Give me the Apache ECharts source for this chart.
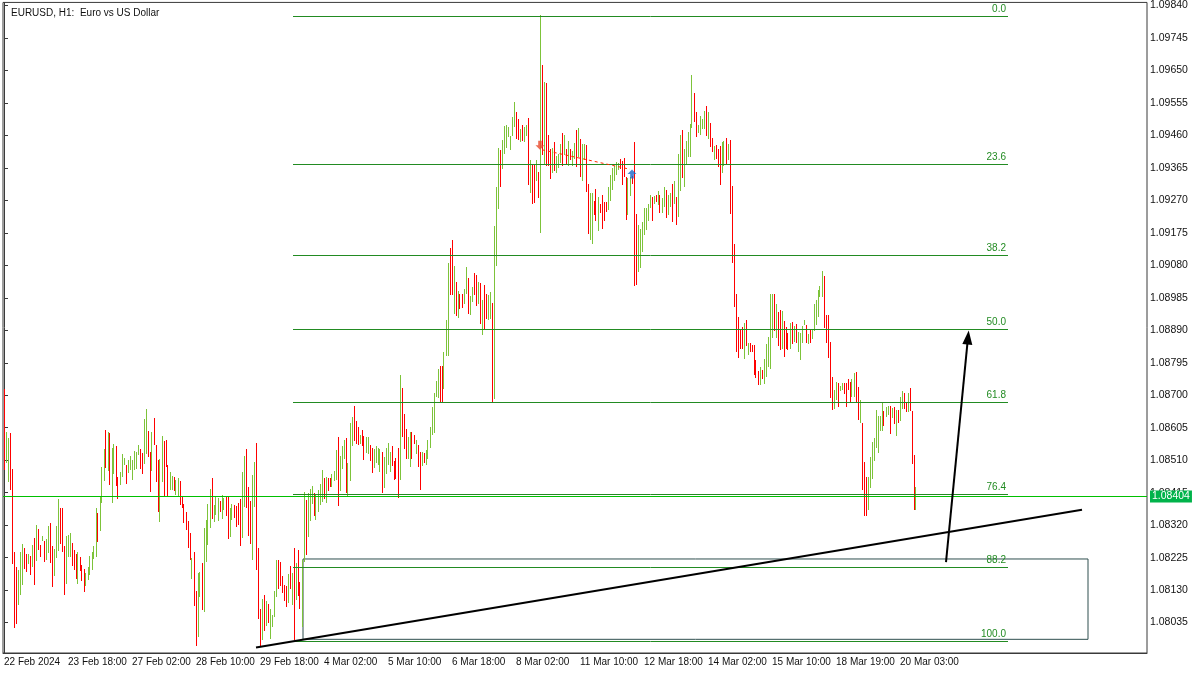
<!DOCTYPE html>
<html><head><meta charset="utf-8">
<script src="https://cdn.jsdelivr.net/npm/echarts@6/dist/echarts.min.js"></script>
<style>html,body{margin:0;padding:0;background:#fff}#c{width:1200px;height:675px}</style>
</head><body><div id="c"></div>
<script>
// ---- DATA (EURUSD H1) ----
const highs = [
1.08718,1.08592,1.08575,1.08590,1.08484,1.08241,1.08197,1.08189,1.08241,1.08265,
1.08254,1.08235,1.08235,1.08229,1.08262,1.08283,1.08321,1.08309,1.08262,1.08289,
1.08274,1.08280,1.08318,1.08327,1.08260,1.08251,1.08318,1.08397,1.08371,1.08371,
1.08260,1.08289,1.08292,1.08298,1.08268,1.08247,1.08235,1.08241,1.08227,1.08203,
1.08191,1.08180,1.08197,1.08229,1.08241,1.08260,1.08371,1.08356,1.08406,1.08490,
1.08543,1.08598,1.08592,1.08590,1.08546,1.08557,1.08552,1.08461,1.08476,1.08528,
1.08517,1.08496,1.08511,1.08522,1.08511,1.08537,1.08534,1.08554,1.08543,1.08531,
1.08630,1.08660,1.08595,1.08534,1.08592,1.08633,1.08554,1.08511,1.08514,1.08581,
1.08566,1.08569,1.08496,1.08476,1.08464,1.08461,1.08452,1.08458,1.08449,1.08406,
1.08382,1.08359,1.08333,1.08298,1.08224,1.08241,1.08127,1.08180,1.08183,1.08209,
1.08312,1.08336,1.08382,1.08426,1.08458,1.08379,1.08403,1.08400,1.08391,1.08408,
1.08400,1.08403,1.08406,1.08371,1.08382,1.08379,1.08376,1.08385,1.08397,1.08476,
1.08522,1.08543,1.08432,1.08391,1.08467,1.08505,1.08560,1.08254,1.08075,1.08104,
1.08115,1.08098,1.08089,1.08075,1.08057,1.08127,1.08218,1.08218,1.08212,1.08171,
1.08145,1.08142,1.08177,1.08200,1.08180,1.08254,1.08209,1.08247,1.08153,1.08218,
1.08417,1.08394,1.08414,1.08426,1.08435,1.08414,1.08408,1.08423,1.08441,1.08482,
1.08458,1.08461,1.08458,1.08458,1.08470,1.08479,1.08540,1.08578,1.08522,1.08552,
1.08569,1.08575,1.08502,1.08619,1.08636,1.08668,1.08625,1.08607,1.08584,1.08598,
1.08581,1.08578,1.08578,1.08554,1.08546,1.08543,1.08552,1.08546,1.08543,1.08534,
1.08520,1.08546,1.08560,1.08534,1.08552,1.08508,1.08517,1.08546,1.08759,1.08721,
1.08645,1.08601,1.08578,1.08592,1.08592,1.08584,1.08569,1.08554,1.08534,1.08534,
1.08531,1.08540,1.08569,1.08607,1.08666,1.08706,1.08741,1.08776,1.08785,1.08785,
1.08826,1.08920,1.09086,1.09130,1.09153,1.09077,1.09030,1.09004,1.08995,1.08995,
1.09010,1.09074,1.09042,1.08990,1.09016,1.09057,1.09051,1.09030,1.09027,1.08978,
1.09021,1.08995,1.08992,1.09001,1.08969,1.09194,1.09309,1.09423,1.09417,1.09446,
1.09487,1.09490,1.09484,1.09458,1.09513,1.09557,1.09528,1.09507,1.09478,1.09490,
1.09484,1.09490,1.09510,1.09388,1.09373,1.09373,1.09388,1.09353,1.09811,1.09665,
1.09615,1.09612,1.09461,1.09420,1.09423,1.09440,1.09399,1.09405,1.09434,1.09466,
1.09461,1.09420,1.09443,1.09420,1.09414,1.09437,1.09475,1.09481,1.09449,1.09434,
1.09434,1.09431,1.09318,1.09291,1.09291,1.09267,1.09303,1.09279,1.09258,1.09285,
1.09264,1.09264,1.09309,1.09344,1.09364,1.09370,1.09382,1.09379,1.09391,1.09385,
1.09394,1.09338,1.09335,1.09338,1.09341,1.09440,1.09229,1.09197,1.09185,1.09206,
1.09247,1.09247,1.09258,1.09285,1.09279,1.09282,1.09285,1.09296,1.09287,1.09276,
1.09309,1.09300,1.09287,1.09293,1.09318,1.09326,1.09279,1.09405,1.09461,1.09475,
1.09420,1.09443,1.09469,1.09493,1.09636,1.09583,1.09528,1.09490,1.09516,1.09507,
1.09531,1.09545,1.09528,1.09496,1.09452,1.09429,1.09431,1.09420,1.09429,1.09440,
1.09443,1.09452,1.09434,1.09446,1.09312,1.09141,1.08995,1.08928,1.08893,1.08899,
1.08911,1.08920,1.08852,1.08852,1.08847,1.08847,1.08803,1.08771,1.08782,1.08774,
1.08806,1.08850,1.08870,1.08995,1.08995,1.08995,1.08966,1.08943,1.08949,1.08946,
1.08917,1.08899,1.08882,1.08911,1.08914,1.08902,1.08908,1.08885,1.08882,1.08902,
1.08920,1.08905,1.08879,1.08890,1.08893,1.08966,1.08978,1.09007,1.09019,1.09063,
1.09048,1.08934,1.08934,1.08855,1.08753,1.08715,1.08739,1.08736,1.08727,1.08736,
1.08736,1.08736,1.08747,1.08739,1.08747,1.08765,1.08768,1.08724,1.08686,1.08619,
1.08505,1.08461,1.08461,1.08520,1.08563,1.08575,1.08657,1.08639,1.08639,1.08677,
1.08654,1.08666,1.08668,1.08668,1.08663,1.08666,1.08657,1.08657,1.08695,1.08712,
1.08706,1.08680,1.08706,1.08721,1.08654,1.08525,1.08432];
const lows = [
1.08482,1.08502,1.08446,1.08423,1.08206,1.08019,1.08031,1.08086,1.08115,1.08145,
1.08191,1.08183,1.08206,1.08174,1.08197,1.08145,1.08215,1.08247,1.08227,1.08274,
1.08212,1.08218,1.08238,1.08209,1.08139,1.08171,1.08224,1.08244,1.08265,1.08241,
1.08115,1.08148,1.08227,1.08227,1.08200,1.08189,1.08162,1.08148,1.08186,1.08156,
1.08124,1.08142,1.08159,1.08174,1.08189,1.08221,1.08227,1.08271,1.08303,1.08385,
1.08449,1.08487,1.08479,1.08438,1.08385,1.08470,1.08435,1.08397,1.08438,1.08461,
1.08496,1.08441,1.08473,1.08482,1.08452,1.08482,1.08484,1.08525,1.08484,1.08470,
1.08499,1.08528,1.08520,1.08417,1.08479,1.08554,1.08446,1.08359,1.08330,1.08446,
1.08406,1.08490,1.08406,1.08423,1.08423,1.08420,1.08408,1.08406,1.08379,1.08371,
1.08327,1.08306,1.08254,1.08218,1.08162,1.08083,1.07967,1.07993,1.08110,1.08072,
1.08066,1.08212,1.08262,1.08312,1.08338,1.08330,1.08350,1.08333,1.08359,1.08338,
1.08365,1.08347,1.08280,1.08286,1.08336,1.08341,1.08315,1.08321,1.08260,1.08283,
1.08373,1.08371,1.08289,1.08265,1.08218,1.08373,1.08189,1.08045,1.07964,1.07984,
1.08010,1.08025,1.08034,1.07987,1.08022,1.08051,1.08110,1.08133,1.08142,1.08121,
1.08098,1.08081,1.08092,1.08133,1.08086,1.07984,1.08101,1.08112,1.08075,1.08022,
1.08212,1.08232,1.08286,1.08333,1.08382,1.08347,1.08336,1.08359,1.08379,1.08388,
1.08397,1.08385,1.08420,1.08432,1.08432,1.08449,1.08452,1.08376,1.08420,1.08484,
1.08514,1.08414,1.08403,1.08449,1.08552,1.08566,1.08557,1.08554,1.08557,1.08552,
1.08511,1.08531,1.08528,1.08508,1.08473,1.08487,1.08502,1.08496,1.08476,1.08414,
1.08429,1.08470,1.08496,1.08476,1.08493,1.08452,1.08455,1.08400,1.08452,1.08578,
1.08543,1.08514,1.08514,1.08490,1.08514,1.08557,1.08528,1.08490,1.08423,1.08493,
1.08502,1.08496,1.08514,1.08546,1.08584,1.08590,1.08695,1.08692,1.08680,1.08677,
1.08718,1.08814,1.08814,1.08992,1.08992,1.08937,1.08931,1.08925,1.08952,1.08955,
1.08966,1.08995,1.08937,1.08934,1.08972,1.08992,1.08960,1.08966,1.08908,1.08876,
1.08893,1.08922,1.08920,1.08922,1.08677,1.08689,1.09077,1.09244,1.09309,1.09361,
1.09405,1.09423,1.09455,1.09417,1.09458,1.09484,1.09449,1.09446,1.09440,1.09443,
1.09440,1.09458,1.09315,1.09291,1.09258,1.09261,1.09326,1.09276,1.09176,1.09402,
1.09373,1.09370,1.09370,1.09332,1.09350,1.09356,1.09350,1.09364,1.09379,1.09370,
1.09402,1.09373,1.09370,1.09388,1.09370,1.09391,1.09367,1.09396,1.09338,1.09326,
1.09388,1.09294,1.09173,1.09153,1.09141,1.09226,1.09209,1.09179,1.09232,1.09185,
1.09209,1.09235,1.09241,1.09267,1.09300,1.09326,1.09344,1.09358,1.09361,1.09315,
1.09338,1.09212,1.09226,1.09282,1.09318,1.09019,1.09021,1.09060,1.09071,1.09118,
1.09168,1.09182,1.09209,1.09247,1.09209,1.09258,1.09264,1.09255,1.09232,1.09232,
1.09250,1.09217,1.09226,1.09252,1.09206,1.09258,1.09197,1.09220,1.09297,1.09335,
1.09309,1.09376,1.09396,1.09396,1.09481,1.09499,1.09455,1.09466,1.09461,1.09478,
1.09478,1.09458,1.09449,1.09426,1.09411,1.09388,1.09391,1.09367,1.09315,1.09350,
1.09370,1.09376,1.09388,1.09229,1.09086,1.08958,1.08826,1.08809,1.08835,1.08835,
1.08806,1.08844,1.08817,1.08826,1.08826,1.08759,1.08750,1.08730,1.08730,1.08747,
1.08733,1.08753,1.08782,1.08776,1.08867,1.08888,1.08867,1.08844,1.08832,1.08835,
1.08812,1.08835,1.08832,1.08835,1.08850,1.08855,1.08852,1.08826,1.08803,1.08852,
1.08905,1.08852,1.08850,1.08852,1.08864,1.08888,1.08905,1.08928,1.08987,1.08987,
1.08896,1.08852,1.08809,1.08692,1.08657,1.08660,1.08686,1.08666,1.08712,1.08715,
1.08704,1.08666,1.08715,1.08680,1.08695,1.08695,1.08677,1.08628,1.08619,1.08423,
1.08347,1.08347,1.08365,1.08429,1.08455,1.08508,1.08546,1.08531,1.08595,1.08595,
1.08610,1.08636,1.08642,1.08587,1.08633,1.08616,1.08581,1.08619,1.08625,1.08660,
1.08660,1.08651,1.08651,1.08654,1.08499,1.08365,1.08365];
// G = bull bar, R = bear bar
const dirs = (
"RGGRRRRGGG"+"RRGRGRGRRG"+"RGGRRGGGRR"+"RGGGRRRGRR"+"RGGGGGGRGG"+
"GRGRGGRRGG"+"GRGGGGGGRR"+"GGRRGRRRGG"+"RRRGGRGGRR"+"RRRRGRRGGR"+
"GGGGRGGGRG"+"GRRGGRRRRG"+"GRRRGGRRRG"+"RGRGGGGRRR"+"RRGRGRGRRG"+
"GRGGGRGGGG"+"RGRRGGGRGG"+"GRGGGRRRGR"+"RGGRRGGGGR"+"GGGGRRRRGR"+
"RRGGRRGRRG"+"RGGGGGGGRR"+"GGGRRGRGRR"+"GGRGGRRGRG"+"RRGGRGGGRG"+
"GGGGGGRRGR"+"GGRGRRGRGR"+"GRRRGRGGGR"+"GRGRGGRGRG"+"GRRGGRRGRR"+
"RRGGGGGGRR"+"RRGGRRRGGG"+"GGGGRGRGRG"+"GRGGRGRGGR"+"GGGGGRRGGG"+
"GRGRRGRRRG"+"GRGRRRRRRR"+"GRGRRRRRGR"+"GGGGGRGRRG"+"RRRGRGRGGG"+
"GRGRGGGGGG"+"RRRRRGGRGG"+"RRRRGGRRGR"+"RRGGGGGGGG"+"RGGRGRGRGG"+
"RRGRRRG").split('');

// time-axis labels and the bar index each one sits on
const timeLabels = ['22 Feb 2024','23 Feb 18:00','27 Feb 02:00','28 Feb 10:00','29 Feb 18:00',
  '4 Mar 02:00','5 Mar 10:00','6 Mar 18:00','8 Mar 02:00','11 Mar 10:00','12 Mar 18:00',
  '14 Mar 02:00','15 Mar 10:00','18 Mar 19:00','20 Mar 03:00'];
const labelBars = [0,32,64,96,128,160,192,224,256,288,320,352,384,416,448];
const priceTicks = [1.08035,1.08130,1.08225,1.08320,1.08415,1.08510,1.08605,1.08700,1.08795,
  1.08890,1.08985,1.09080,1.09175,1.09270,1.09365,1.09460,1.09555,1.09650,1.09745,1.09840];

// annotations (bar index, price)
const currentPrice = 1.08404;
const fibHigh = 1.09808, fibLow = 1.07980;
const fibLevels = [0, 23.6, 38.2, 50, 61.8, 76.4, 88.2, 100];
const fibFrom = 144.5, fibTo = 502;
const trendLine = [[126, 1.07962], [539, 1.08365]];
const arrowLine = [[471, 1.08212], [482, 1.08869]];
const boxArea = [[149.5, 1.08221], [542, 1.07986]];
const tradeLine = [[269, 1.09418], [313, 1.09361]];
const sellMark = [268, 1.09431], buyMark = [314, 1.09347];

// ---- CHART ----
const SLOTS = 572;
const Y_MIN = 1.07946, Y_MAX = 1.09849;
const FONT = 'Liberation Sans';
const BULL = '#7dc33a', BEAR = '#ff0000', FIB = '#228b22', FRAME = '#3a3a3a';

const categories = Array.from({length: SLOTS}, (_, i) => String(i));
const labelAt = {};
timeLabels.forEach((t, i) => { labelAt[labelBars[i]] = t; });
const bars = highs.map((h, i) => [i, h, lows[i], dirs[i] === 'G' ? 1 : 0]);

const fibLines = fibLevels.map(l => {
  const p = fibHigh - (fibHigh - fibLow) * l / 100;
  return [{coord: [fibFrom, p], label: {formatter: l.toFixed(1)}}, {coord: [fibTo, p]}];
});

const SELL = 'path://M3,0 L7,0 L7,5 L10,5 L5,10 L0,5 L3,5 Z';
const BUY = 'path://M5,0 L10,5 L7,5 L7,10 L3,10 L3,5 L0,5 Z';

const chart = echarts.init(document.getElementById('c'), null, {renderer: 'canvas'});
chart.setOption({
  animation: false,
  backgroundColor: '#ffffff',
  textStyle: {fontFamily: FONT},
  title: {text: 'EURUSD, H1:  Euro vs US Dollar', left: 6, top: 3,
    textStyle: {fontFamily: FONT, fontSize: 10, fontWeight: 'normal', color: '#111'}},
  grid: {left: 3, right: 53, top: 2, bottom: 22, show: true, borderColor: FRAME, borderWidth: 1},
  xAxis: [{
    type: 'category', data: categories, boundaryGap: true,
    axisLine: {lineStyle: {color: FRAME, width: 1}},
    axisTick: {alignWithLabel: true, length: 4, interval: i => labelAt[i] !== undefined, lineStyle: {color: FRAME}},
    axisLabel: {interval: i => labelAt[i] !== undefined, formatter: (v, i) => labelAt[i] || '',
      align: 'left', margin: 4, fontSize: 10, color: '#111', fontFamily: FONT},
    splitLine: {show: false}
  }, {
    type: 'value', min: -0.5, max: SLOTS - 0.5, show: false
  }],
  yAxis: {
    type: 'value', position: 'right', min: Y_MIN, max: Y_MAX,
    axisLine: {show: true, lineStyle: {color: FRAME}},
    axisTick: {show: true, customValues: priceTicks, length: 4, lineStyle: {color: FRAME}},
    axisLabel: {customValues: priceTicks, formatter: v => v.toFixed(5), fontSize: 10.5, color: '#111', margin: 3, fontFamily: FONT},
    splitLine: {show: false}
  },
  series: [{
    type: 'custom', name: 'EURUSD', xAxisIndex: 0, yAxisIndex: 0, silent: true,
    data: bars, encode: {x: 0, y: [1, 2]},
    renderItem: (params, api) => {
      const i = api.value(0);
      const a = api.coord([i, api.value(1)]);
      const b = api.coord([i, api.value(2)]);
      const x = Math.round(a[0] - 0.5);
      const y1 = Math.round(a[1]);
      const y2 = Math.max(Math.round(b[1]), y1 + 1);
      return {type: 'rect', shape: {x: x, y: y1, width: 1, height: y2 - y1},
        style: {fill: api.value(3) ? BULL : BEAR}};
    }
  }, {
    type: 'line', xAxisIndex: 1, yAxisIndex: 0, data: [], silent: true,
    markArea: {silent: true, itemStyle: {color: 'rgba(0,0,0,0)', borderColor: '#2f4f4f', borderWidth: 1},
      data: [[{coord: boxArea[0]}, {coord: boxArea[1]}]]},
    markLine: {silent: true, symbol: 'none', animation: false,
      lineStyle: {color: FIB, width: 1, type: 'solid'},
      label: {show: true, position: 'insideEndTop', color: FIB, fontSize: 10, fontFamily: FONT, distance: [2, 2]},
      data: fibLines}
  }, {
    type: 'line', xAxisIndex: 1, yAxisIndex: 0, data: [], silent: true, z: 4,
    markLine: {silent: true, symbol: 'none', animation: false,
      lineStyle: {color: '#00c000', width: 1, type: 'solid'},
      label: {show: true, position: 'end', distance: 3, formatter: currentPrice.toFixed(5),
        backgroundColor: '#00b34a', color: '#fff', padding: [1, 2, 0, 2], fontSize: 10.5, fontFamily: FONT},
      data: [[{coord: [-0.5, currentPrice]}, {coord: [SLOTS - 0.5, currentPrice]}]]}
  }, {
    type: 'line', xAxisIndex: 1, yAxisIndex: 0, data: [], silent: true,
    markLine: {silent: true, symbol: 'none', animation: false, label: {show: false},
      lineStyle: {color: '#000', width: 2, type: 'solid'},
      data: [[{coord: trendLine[0]}, {coord: trendLine[1]}]]}
  }, {
    type: 'line', xAxisIndex: 1, yAxisIndex: 0, data: [], silent: true,
    markLine: {silent: true, symbol: ['none', 'triangle'], symbolSize: [10, 14], animation: false, label: {show: false},
      lineStyle: {color: '#000', width: 2, type: 'solid'},
      data: [[{coord: arrowLine[0]}, {coord: arrowLine[1]}]]}
  }, {
    type: 'line', xAxisIndex: 1, yAxisIndex: 0, data: [], silent: true,
    markLine: {silent: true, symbol: 'none', animation: false, label: {show: false},
      lineStyle: {color: '#ff2a00', width: 1, type: [3, 3]},
      data: [[{coord: tradeLine[0]}, {coord: tradeLine[1]}]]}
  }, {
    type: 'scatter', xAxisIndex: 1, yAxisIndex: 0, silent: true, symbolSize: 9, z: 5,
    data: [{value: sellMark, symbol: SELL, itemStyle: {color: '#e8482a'}},
           {value: buyMark, symbol: BUY, itemStyle: {color: '#1a66c8'}}]
  }]
});
</script></body></html>
